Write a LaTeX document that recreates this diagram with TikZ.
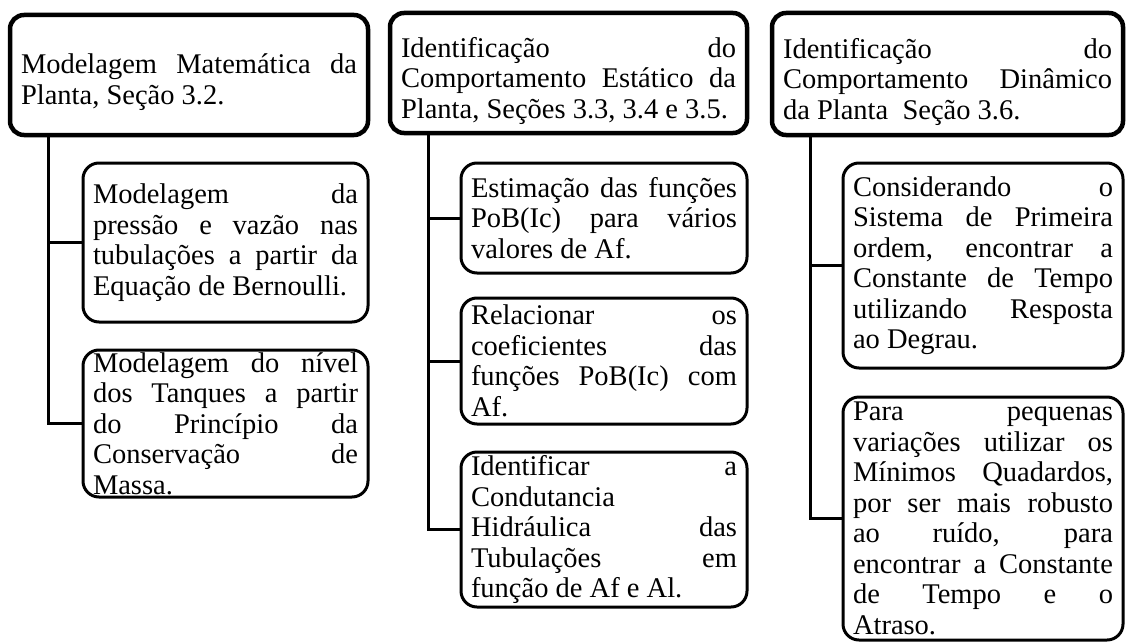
\documentclass[tikz,border=0pt]{standalone}
\usepackage{fontspec}
\setmainfont{Liberation Serif}
\usetikzlibrary{positioning}
\tolerance=10000
\hyphenpenalty=10000
\hbadness=10000

\begin{document}
\begin{tikzpicture}[x=1pt,y=1pt]
        \tikzset{titlebox/.style={draw, line width=4.5pt, rounded corners=14pt, align=justify, inner xsep=11pt, inner ysep=0pt, outer sep=0pt, anchor=north west, minimum height=120pt},
        subbox/.style={draw, line width=3pt, rounded corners=16pt, align=justify, inner xsep=10pt, inner ysep=0pt, outer sep=0pt},
        link/.style={draw, line width=3pt},
        every node/.style={font=\fontsize{28.5pt}{30.5pt}\selectfont}
        }
        \useasboundingbox (0,0) rectangle (1126,-642);

%% top boxes (the strut lowers the text a little)
        \node [titlebox, text width=336pt] (model) at (10,-15) {\rule{0pt}{34pt}Modelagem Matemática da\linebreak Planta, Seção 3.2.};
        \node [titlebox, text width=335pt] (static) at (390,-13) {\rule{0pt}{36pt}Identificação do\linebreak Comportamento Estático da\linebreak Planta, Seções 3.3, 3.4 e 3.5.};
        \node [titlebox, text width=329pt, minimum height=122pt] (dynamic) at (772,-13) {\rule{0pt}{36pt}Identificação do\linebreak Comportamento Dinâmico\linebreak da Planta\ \ Seção 3.6.};

%% first column
        \node [subbox, text width=265pt, minimum height=159pt, below=28pt of model.south east, anchor=north east] (bernoulli) {Modelagem da\linebreak pressão e vazão nas\linebreak tubulações a partir da\linebreak Equação de Bernoulli.};
        \node [subbox, text width=265pt, minimum height=147pt, below=28pt of bernoulli.south east, anchor=north east] (level) {Modelagem do nível\linebreak dos Tanques a partir\linebreak do Princípio da\linebreak Conservação de\linebreak Massa.};

%% second column
        \node [subbox, text width=266pt, minimum height=110pt, below=30pt of static.south east, anchor=north east] (estim) {Estimação das funções\linebreak PoB(Ic) para vários\linebreak valores de Af.};
        \node [subbox, text width=266pt, minimum height=126pt, below=25pt of estim.south east, anchor=north east] (coef) {Relacionar os\linebreak coeficientes das\linebreak funções PoB(Ic) com\linebreak Af.};
        \node [subbox, text width=266pt, minimum height=155pt, below=28pt of coef.south east, anchor=north east] (cond) {Identificar a\linebreak Condutancia\linebreak Hidráulica das\linebreak Tubulações em\linebreak função de Af e Al.};

%% third column
        \node [subbox, text width=260pt, minimum height=205pt, below=28pt of dynamic.south east, anchor=north east] (step) {Considerando o\linebreak Sistema de Primeira\linebreak ordem, encontrar a\linebreak Constante de Tempo\linebreak utilizando Resposta\linebreak ao Degrau.};
        \node [subbox, text width=260pt, minimum height=243pt, below=29pt of step.south east, anchor=north east] (lsq) {Para pequenas\linebreak variações utilizar os\linebreak Mínimos Quadardos,\linebreak por ser mais robusto\linebreak ao ruído, para\linebreak encontrar a Constante\linebreak de Tempo e o\linebreak Atraso.};

        \coordinate (trunk1) at ([xshift=38pt]model.south west);
        \coordinate (trunk2) at ([xshift=38pt]static.south west);
        \coordinate (trunk3) at ([xshift=38pt]dynamic.south west);

%% paths
        \path[link] (trunk1) |- (level.west)
                    (trunk1 |- bernoulli.west) -- (bernoulli.west)
                    (trunk2) |- (cond.west)
                    (trunk2 |- estim.west) -- (estim.west)
                    (trunk2 |- coef.west) -- (coef.west)
                    (trunk3) |- (lsq.west)
                    (trunk3 |- step.west) -- (step.west)
                    ;
\end{tikzpicture}
\end{document}
